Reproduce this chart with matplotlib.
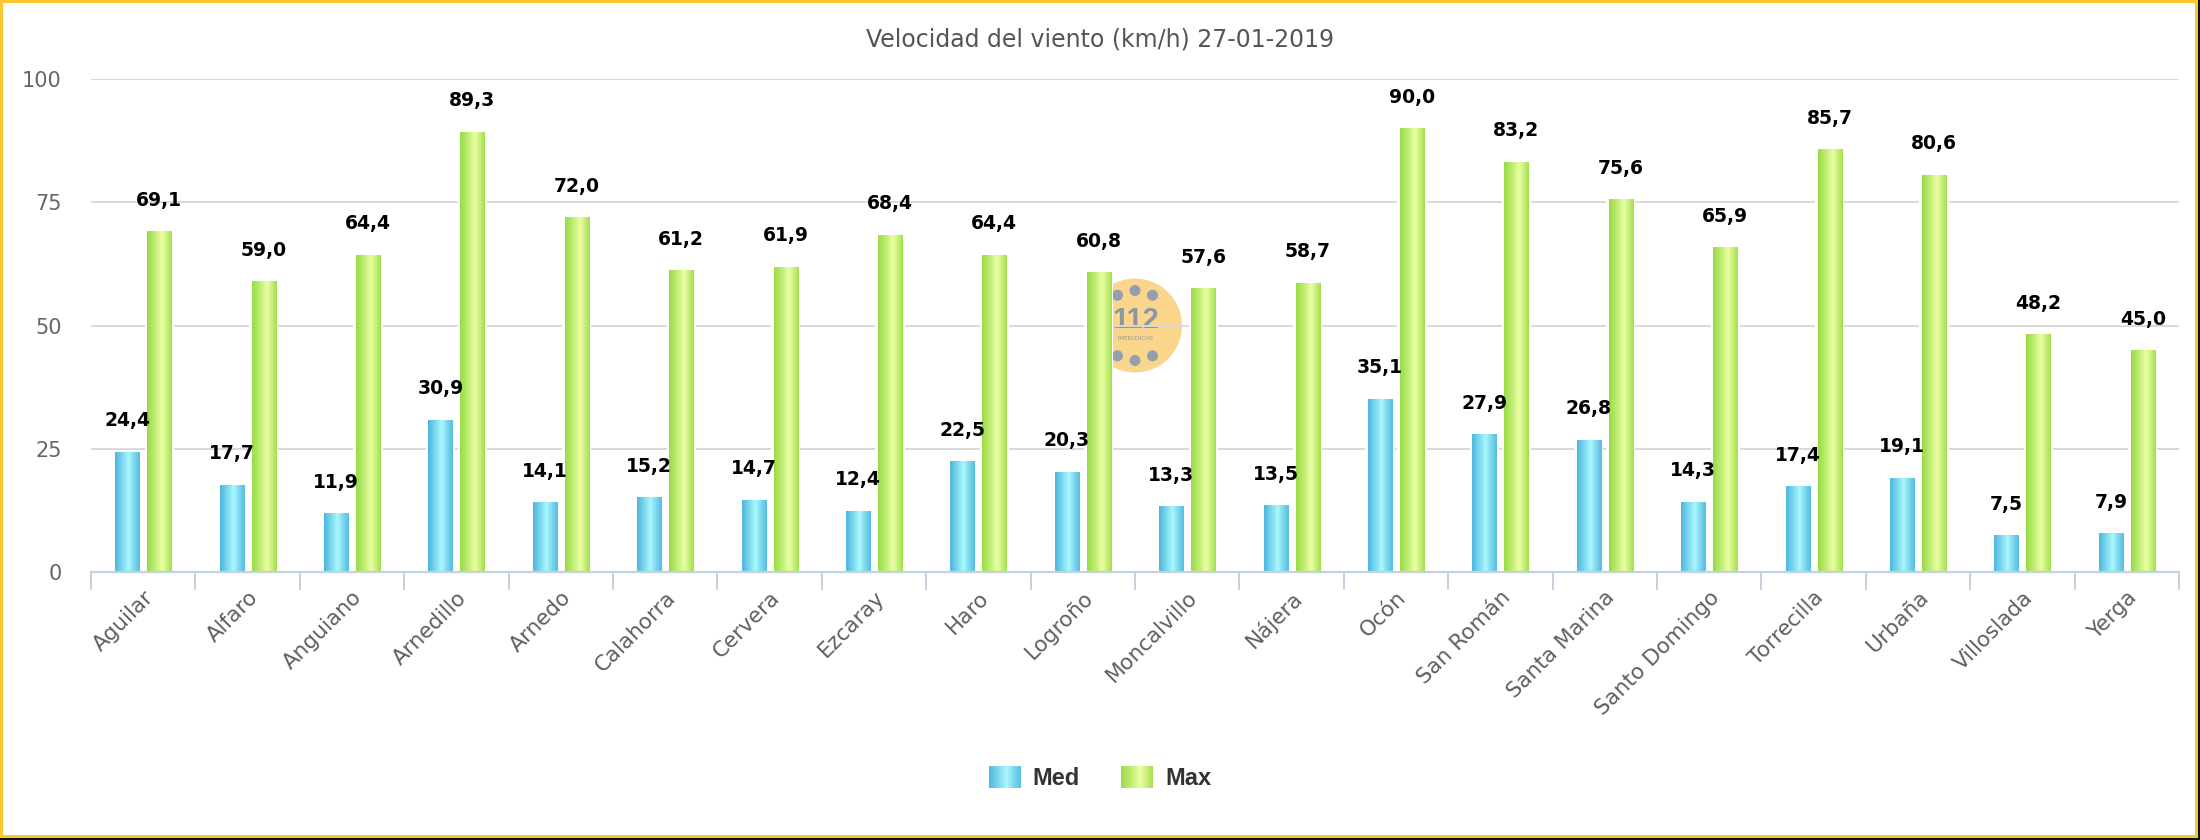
import matplotlib
matplotlib.use("Agg")
import numpy as np
import matplotlib.pyplot as plt
from matplotlib.patches import Rectangle, Ellipse
from matplotlib.colors import LinearSegmentedColormap
from matplotlib.legend_handler import HandlerBase
import matplotlib.transforms as mtransforms

# ---------------- data ----------------
title = "Velocidad del viento (km/h) 27-01-2019"
stations = ["Aguilar", "Alfaro", "Anguiano", "Arnedillo", "Arnedo", "Calahorra",
            "Cervera", "Ezcaray", "Haro", "Logroño", "Moncalvillo", "Nájera",
            "Ocón", "San Román", "Santa Marina", "Santo Domingo", "Torrecilla",
            "Urbaña", "Villoslada", "Yerga"]
med = [24.4, 17.7, 11.9, 30.9, 14.1, 15.2, 14.7, 12.4, 22.5, 20.3,
       13.3, 13.5, 35.1, 27.9, 26.8, 14.3, 17.4, 19.1, 7.5, 7.9]
maxv = [69.1, 59.0, 64.4, 89.3, 72.0, 61.2, 61.9, 68.4, 64.4, 60.8,
        57.6, 58.7, 90.0, 83.2, 75.6, 65.9, 85.7, 80.6, 48.2, 45.0]
series_names = ["Med", "Max"]
yticks = [0, 25, 50, 75, 100]

# ---------------- style ----------------
W, H = 2200, 840
blue_cols = ["#4DB7DE", "#7FD9EE", "#A9F7FD", "#7CD6EC", "#56BFE2"]
blue_pos = [0.0, 0.3, 0.55, 0.78, 1.0]
green_cols = ["#98DC46", "#C4EE78", "#EAFFA2", "#C6EE7A", "#A0E04B"]
green_pos = [0.0, 0.35, 0.6, 0.82, 1.0]
cm_blue = LinearSegmentedColormap.from_list("b", list(zip(blue_pos, blue_cols)))
cm_green = LinearSegmentedColormap.from_list("g", list(zip(green_pos, green_cols)))

fig = plt.figure(figsize=(W / 100, H / 100), dpi=100)
fig.patch.set_facecolor("white")
px = mtransforms.Affine2D().scale(1 / W, 1 / H) + fig.transFigure

ax_l, ax_r, ax_t, ax_b = 91, 2179, 79, 572
aw, ah = ax_r - ax_l, ax_b - ax_t
ax = fig.add_axes([ax_l / W, (H - ax_b) / H, aw / W, ah / H])
ax.set_facecolor("white")

x = np.arange(len(stations))
bw = 0.23
off = 0.153
halo = 0.05

# white halos to cut gridlines beside bars
ax.bar(x - off, med, bw + halo, color="white", zorder=1.5, linewidth=0)
ax.bar(x + off, maxv, bw + halo, color="white", zorder=1.5, linewidth=0)
b1 = ax.bar(x - off, med, bw, facecolor="none", edgecolor="none", zorder=2)
b2 = ax.bar(x + off, maxv, bw, facecolor="none", edgecolor="none", zorder=2)

grad = np.linspace(0, 1, 64).reshape(1, -1)
for bars, cmap in ((b1, cm_blue), (b2, cm_green)):
    for r in bars:
        x0, y0, w, h = r.get_x(), r.get_y(), r.get_width(), r.get_height()
        im = ax.imshow(grad, extent=[x0, x0 + w, y0, y0 + h], aspect="auto",
                       cmap=cmap, zorder=2, interpolation="bilinear")
        im.set_clip_path(r)

# data labels
def fmt(v):
    return f"{v:.1f}".replace(".", ",")

for bars, vals in ((b1, med), (b2, maxv)):
    for r, v in zip(bars, vals):
        ax.annotate(fmt(v), (r.get_x() + r.get_width() / 2, v),
                    xytext=(0, 31), textcoords="offset pixels",
                    ha="center", va="center", fontsize=13.5, fontweight="bold",
                    color="black", zorder=5)

ax.set_xlim(-0.5, len(stations) - 0.5)
ax.set_ylim(0, 100)
ax.set_aspect("auto")

# grid & axes
ax.set_yticks(yticks)
ax.yaxis.grid(True, color="#D9D9D9", linewidth=1.4)
ax.set_axisbelow(True)
for s in ("top", "right", "left"):
    ax.spines[s].set_visible(False)
ax.spines["bottom"].set_color("#C3D1E0")
ax.spines["bottom"].set_linewidth(1.6)
ax.spines["bottom"].set_zorder(3)

ax.tick_params(axis="y", length=0, pad=21, labelsize=15, labelcolor="#666666")
ax.set_xticks(x)
ax.set_xticklabels(stations, rotation=45, ha="right", va="top",
                   rotation_mode="anchor", fontsize=15.5, color="#5F5F5F")
ax.tick_params(axis="x", which="major", length=0, pad=11)
ax.set_xticks(np.arange(-0.5, len(stations), 1.0), minor=True)
ax.tick_params(axis="x", which="minor", length=13, width=1.4, color="#C3D1E0")

# watermark logo (centered in plot area, behind grid)
R = 47
ax.add_patch(Ellipse((0.5, 0.5), 2 * R / aw, 2 * R / ah, transform=ax.transAxes,
                     facecolor="#F9D68C", edgecolor="none", zorder=0.1))
for ang in (60, 90, 120, 150, 210, 240, 270, 300):
    a = np.deg2rad(ang)
    cx = 0.5 + 35 * np.cos(a) / aw
    cy = 0.5 + 35 * np.sin(a) / ah
    ax.add_patch(Ellipse((cx, cy), 11 / aw, 11 / ah, transform=ax.transAxes,
                         facecolor="#949FAD", edgecolor="none", zorder=0.15))
ax.text(0.5, 0.5 + 5 / ah, "112", transform=ax.transAxes, ha="center", va="center",
        fontsize=21, fontweight="bold", family=["Liberation Sans", "DejaVu Sans"],
        color="#8A97A6", zorder=0.15)
ax.text(0.5, 0.5 - 13 / ah, "EMERGENCIAS", transform=ax.transAxes, ha="center",
        va="center", fontsize=3.5, color="#8E9AA8", zorder=0.15)

# title
fig.text(0.5, 1 - 40 / H, title, ha="center", va="center", fontsize=17,
         color="#555555")

# legend with gradient swatches
class GradHandler(HandlerBase):
    def __init__(self, cmap):
        super().__init__()
        self.cmap = cmap

    def create_artists(self, legend, orig_handle, xdescent, ydescent, width,
                       height, fontsize, trans):
        n = 32
        arts = []
        for i in range(n):
            r = Rectangle((-xdescent + width * i / n, -ydescent), width / n * 1.05,
                          height, facecolor=self.cmap((i + 0.5) / n),
                          edgecolor="none", transform=trans)
            arts.append(r)
        return arts

h1 = Rectangle((0, 0), 1, 1)
h2 = Rectangle((0, 0), 1, 1)
fs = 17
fpx = fs * 100 / 72
leg = fig.legend([h1, h2], series_names, loc="center",
                 bbox_to_anchor=(1100 / W, 1 - 778 / H), ncol=2, frameon=False,
                 handler_map={h1: GradHandler(cm_blue), h2: GradHandler(cm_green)},
                 prop={"family": ["Liberation Sans", "DejaVu Sans"],
                       "weight": "bold", "size": fs},
                 handlelength=32 / fpx, handleheight=24 / fpx,
                 handletextpad=12 / fpx, columnspacing=41 / fpx,
                 labelcolor="#333333")

# frame: yellow border with dark outer edge at right / bottom
yel = "#F8C630"
for (x0, y0, w, h, c) in [
    (0, 0, W, 2.5, "#111111"), (W - 2.5, 0, 2.5, H, "#111111"),
    (0, 2.5, 2.5, H - 2.5, yel), (0, H - 2.5, W - 2.5, 2.5, yel),
    (0, 2.5, W - 2.5, 3, yel), (W - 5.5, 2.5, 3, H - 2.5, yel)]:
    fig.patches.append(Rectangle((x0, y0), w, h, transform=px, facecolor=c,
                                 edgecolor="none", zorder=10))

fig.savefig("out.png", dpi=100, facecolor="white")
